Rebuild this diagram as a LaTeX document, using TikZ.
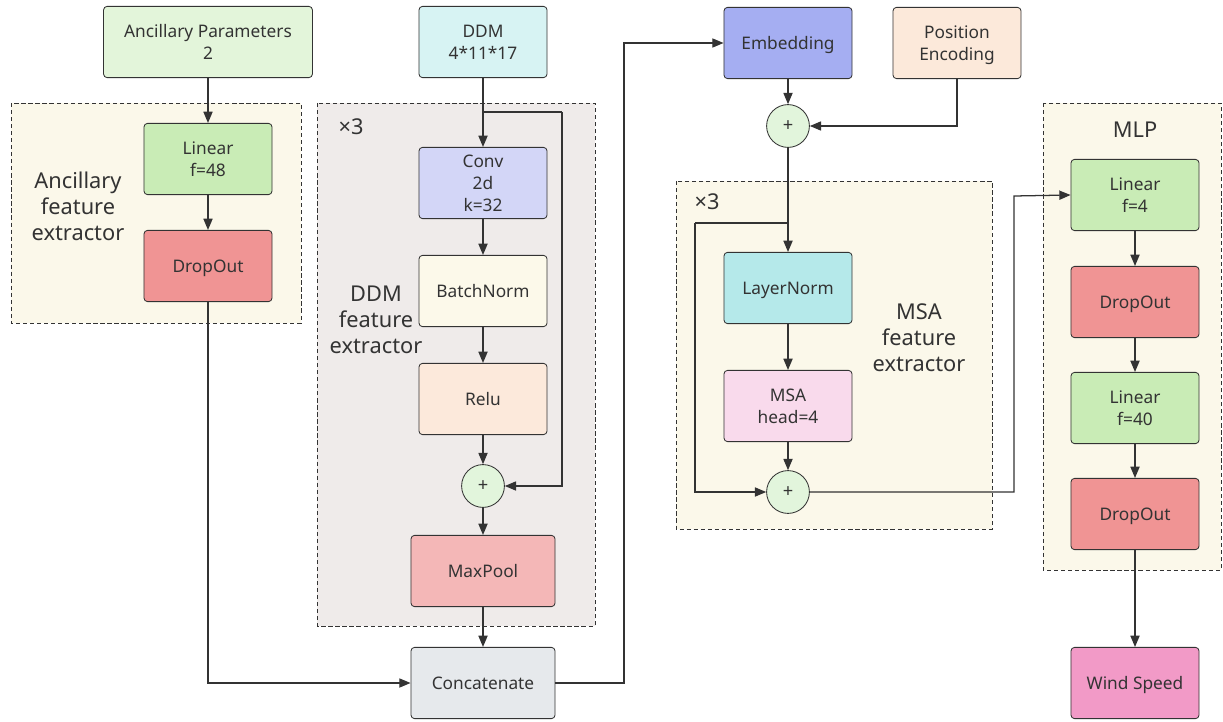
\documentclass[tikz,border=0pt]{standalone}
\usepackage{fontspec}
\setmainfont{Noto Sans}
\usetikzlibrary{arrows.meta}

\definecolor{linec}{HTML}{333333}
\definecolor{ancfill}{HTML}{E3F5DA}
\definecolor{linfill}{HTML}{C9ECB6}
\definecolor{dropfill}{HTML}{F09494}
\definecolor{ddmfill}{HTML}{D7F3F3}
\definecolor{convfill}{HTML}{D3D6F7}
\definecolor{bnfill}{HTML}{FCF9EA}
\definecolor{relufill}{HTML}{FCE9DB}
\definecolor{poolfill}{HTML}{F4B7B7}
\definecolor{catfill}{HTML}{E6E9EC}
\definecolor{embfill}{HTML}{A5AEF2}
\definecolor{posfill}{HTML}{FCE9DA}
\definecolor{lnfill}{HTML}{B5E9EA}
\definecolor{msafill}{HTML}{F9DAEC}
\definecolor{windfill}{HTML}{F29AC7}
\definecolor{plusfill}{HTML}{E2F5DC}
\definecolor{grpyellow}{HTML}{FBF8EA}
\definecolor{grpgrey}{HTML}{EFEBEA}

\begin{document}
\begin{tikzpicture}[
  x=0.025cm, y=-0.025cm,
  box/.style={draw=linec, line width=0.6pt, rounded corners=2.5pt, align=center,
    minimum width=3.2cm, minimum height=1.78cm, inner sep=1pt, text depth=0pt,
    text=linec, font=\fontsize{12.3}{15.5}\selectfont},
  widebox/.style={box, minimum width=3.6cm},
  plus/.style={circle, draw=linec, line width=0.6pt, fill=plusfill, minimum size=1.07cm,
    inner sep=0pt, text=linec, font=\fontsize{13}{13}\selectfont},
  grp/.style={draw=linec, dash pattern=on 3pt off 2pt, line width=0.6pt},
  grplabel/.style={align=center, text=linec, font=\fontsize{15.5}{18.5}\selectfont},
  arr/.style={draw=linec, line width=0.9pt, -{Triangle[length=8pt,width=6.5pt]}},
  link/.style={draw=linec, line width=0.9pt}
]
  \useasboundingbox (0,0) rectangle (1223,722);

  % --- regiones punteadas ---
  \draw[grp, fill=grpyellow] (11,103) rectangle (301,323);
  \draw[grp, fill=grpgrey] (317,103) rectangle (595,626);
  \draw[grp, fill=grpyellow] (676,181) rectangle (992,529);
  \draw[grp, fill=grpyellow] (1043,103) rectangle (1221,570);

  \node[grplabel] (lab1) at (78,206) {Ancillary\\feature\\extractor};
  \node[grplabel] (lab2) at (376,320) {DDM\\feature\\extractor};
  \node[grplabel] (lab3) at (919,338) {MSA\\feature\\extractor};
  \node[grplabel] (lab4) at (1135,130) {MLP};
  \node[grplabel] (rep1) at (351,127) {×3};
  \node[grplabel] (rep2) at (707,202) {×3};

  % --- rama auxiliar ---
  \node[box, fill=ancfill, minimum width=5.22cm] (anc) at (208,42) {Ancillary Parameters\\2};
  \node[box, fill=linfill] (lin1) at (208,159) {Linear\\f=48};
  \node[box, fill=dropfill] (drop1) at (208,266) {DropOut};

  % --- rama DDM ---
  \node[box, fill=ddmfill] (ddm) at (483,42) {DDM\\4*11*17};
  \node[box, fill=convfill] (conv) at (483,183) {Conv\\2d\\k=32};
  \node[box, fill=bnfill] (bn) at (483,291) {BatchNorm};
  \node[box, fill=relufill] (relu) at (483,399) {Relu};
  \node[plus] (plus1) at (483,486) {+};
  \node[widebox, fill=poolfill] (pool) at (483,571) {MaxPool};
  \node[widebox, fill=catfill] (cat) at (483,683) {Concatenate};

  % --- rama MSA ---
  \node[box, fill=embfill] (emb) at (788,43) {Embedding};
  \node[box, fill=posfill] (pos) at (957,43) {Position\\Encoding};
  \node[plus] (plus2) at (788,126) {+};
  \node[box, fill=lnfill] (ln) at (788,288) {LayerNorm};
  \node[box, fill=msafill] (msa) at (788,406) {MSA\\head=4};
  \node[plus] (plus3) at (788,492) {+};

  % --- MLP ---
  \node[box, fill=linfill] (lin2) at (1135,195) {Linear\\f=4};
  \node[box, fill=dropfill] (drop2) at (1135,302) {DropOut};
  \node[box, fill=linfill] (lin3) at (1135,408) {Linear\\f=40};
  \node[box, fill=dropfill] (drop3) at (1135,514) {DropOut};
  \node[box, fill=windfill] (wind) at (1135,683) {Wind Speed};

  \coordinate (s1) at (483,112);
  \coordinate (s1c) at (562,112);
  \coordinate (cup) at (624,43);
  \coordinate (s2) at (788,223);
  \coordinate (s2c) at (695,223);
  \coordinate (mup) at (1014,196);

  % --- conexiones ---
  \draw[arr] (anc) -- (lin1);
  \draw[arr] (lin1) -- (drop1);
  \draw[arr] (drop1.south) |- (cat.west);

  \draw[arr] (ddm) -- (conv);
  \draw[link] (s1) -- (s1c);
  \draw[arr] (s1c) |- (plus1.east);
  \draw[arr] (conv) -- (bn);
  \draw[arr] (bn) -- (relu);
  \draw[arr] (relu) -- (plus1);
  \draw[arr] (plus1) -- (pool);
  \draw[arr] (pool) -- (cat);

  \draw[arr] (cat.east) -| (cup) -- (emb.west);
  \draw[arr] (emb) -- (plus2);
  \draw[arr] (pos.south) |- (plus2.east);
  \draw[arr] (plus2) -- (ln);
  \draw[link] (s2) -- (s2c);
  \draw[arr] (s2c) |- (plus3.west);
  \draw[arr] (ln) -- (msa);
  \draw[arr] (msa) -- (plus3);
  \draw[arr] (plus3.east) -| (mup) -- (lin2.west);

  \draw[arr] (lin2) -- (drop2);
  \draw[arr] (drop2) -- (lin3);
  \draw[arr] (lin3) -- (drop3);
  \draw[arr] (drop3) -- (wind);
\end{tikzpicture}
\end{document}
